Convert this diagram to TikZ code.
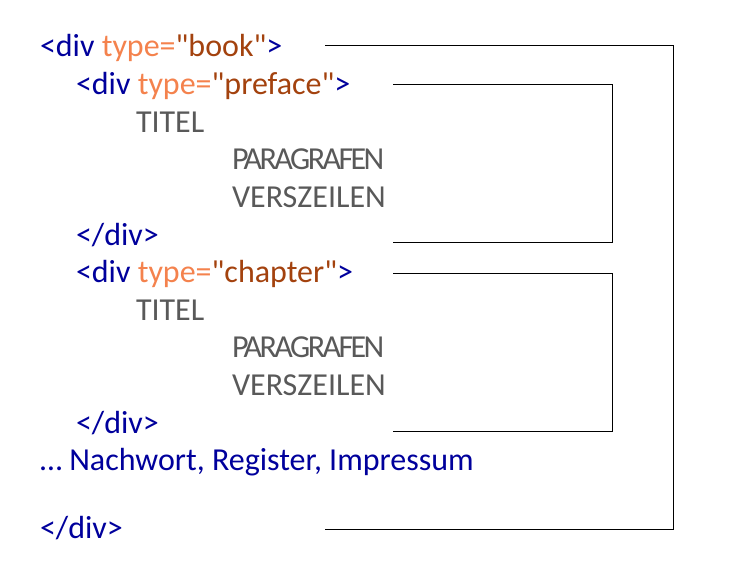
\documentclass[tikz,border=0pt]{standalone}
\usepackage{fontspec}
\setmainfont{Carlito}[Ligatures=TeXOff]
\definecolor{tagblue}{HTML}{00009C}
\definecolor{attrorange}{HTML}{F4824D}
\definecolor{valbrown}{HTML}{A3420E}
\definecolor{txtgray}{HTML}{595959}
\begin{document}
\begin{tikzpicture}[x=1pt,y=-1pt,
  every node/.style={anchor=base west,inner sep=0pt,outer sep=0pt,font=\fontsize{32}{38}\selectfont},
  tag/.style={text=tagblue},
  gray/.style={text=txtgray},
  tight/.style={font=\fontsize{32}{38}\selectfont\addfontfeature{LetterSpace=-8}},
  brack/.style={draw=black,line width=1pt}]
\useasboundingbox (0,0) rectangle (730,580);
\newcommand{\atr}[1]{\textcolor{attrorange}{type=}\textcolor{valbrown}{"#1"}}
\node[tag] (book) at (40,57) {<div \atr{book}>};
\node[tag] (pref) at (76,94.6) {<div \atr{preface}>};
\node[gray] (t1) at (136,132.2) {TITEL};
\node[gray,tight] (p1) at (232,169.8) {PARAGRAFEN};
\node[gray] (v1) at (232,207.4) {VERSZEILEN};
\node[tag] (e1) at (76,245) {</div>};
\node[tag] (chap) at (76,282.6) {<div \atr{chapter}>};
\node[gray] (t2) at (136,320.2) {TITEL};
\node[gray,tight] (p2) at (232,357.8) {PARAGRAFEN};
\node[gray] (v2) at (232,395.4) {VERSZEILEN};
\node[tag] (e2) at (76,433) {</div>};
\node[tag] (nach) at (40,470.6) {… Nachwort, Register, Impressum};
\node[tag] (e0) at (40,538) {</div>};
% bracket ends
\coordinate (oA) at (325,46);
\coordinate (oB) at (325,529);
\coordinate (aA) at (393,85);
\coordinate (aB) at (393,242);
\coordinate (bA) at (393,273);
\coordinate (bB) at (393,431);
\draw[brack] (oA) -- (673,46) -- (673,529) -- (oB);
\draw[brack] (aA) -- (612,85) -- (612,242) -- (aB);
\draw[brack] (bA) -- (612,273) -- (612,431) -- (bB);
\end{tikzpicture}
\end{document}
